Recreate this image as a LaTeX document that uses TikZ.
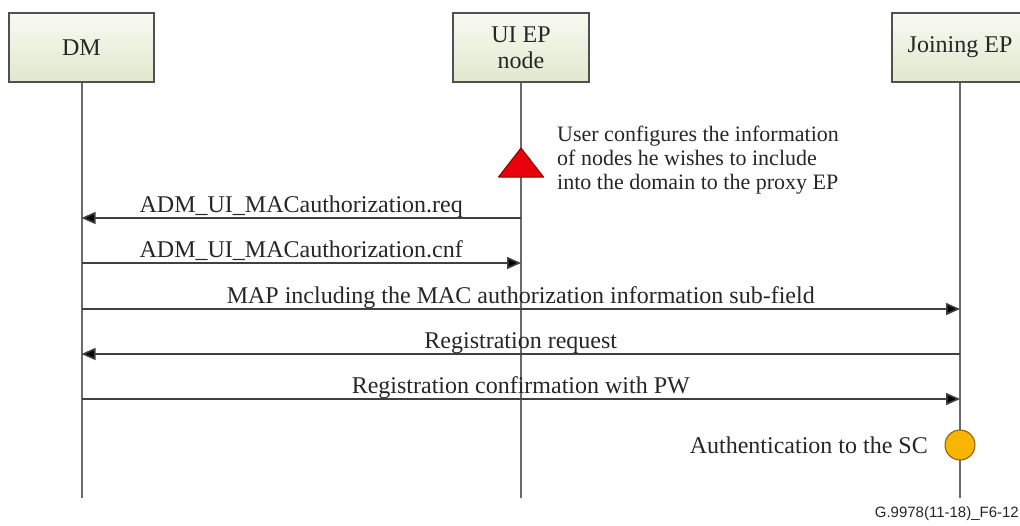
\documentclass[tikz,border=0pt]{standalone}
\usepackage{fontspec}
\setmainfont{Liberation Serif}
\newfontfamily\footfont{Liberation Sans}
\usetikzlibrary{arrows.meta,calc}

\definecolor{boxtop}{HTML}{F8FAF3}
\definecolor{boxbot}{HTML}{E0E8CC}
\definecolor{boxline}{HTML}{505050}
\definecolor{lifeline}{HTML}{6A6A6A}
\definecolor{msgline}{HTML}{404040}
\definecolor{txt}{HTML}{262626}
\definecolor{trired}{HTML}{E8000A}
\definecolor{triedge}{HTML}{8A0000}
\definecolor{dotfill}{HTML}{F7B500}
\definecolor{dotedge}{HTML}{8C5A00}

\tikzset{
  entity/.style={draw=boxline, line width=1.5pt, top color=boxtop, bottom color=boxbot,
    minimum height=69pt, inner sep=0pt, align=center, text=txt,
    font=\fontsize{24}{26}\selectfont},
  life/.style={draw=lifeline, line width=2pt},
  msg/.style={draw=msgline, line width=1.6pt, -{Triangle[length=14pt,width=12pt,fill=black]}},
  msglabel/.style={anchor=base, yshift=6pt, inner sep=0pt, text=txt,
    font=\fontsize{24}{26}\selectfont},
  note/.style={inner sep=0pt, text=txt, align=left, font=\fontsize{22}{24}\selectfont},
}

\begin{document}
\begin{tikzpicture}[x=1pt, y=-1pt]
  \path[use as bounding box] (0,0) rectangle (1020,525);
  \clip (0,0) rectangle (1020,525);

  % participants
  \node[entity, minimum width=145pt] (dm) at (81.5,47.5) {DM};
  \node[entity, minimum width=136pt] (ui) at (521,47.5) {UI EP\\node};
  \node[entity, minimum width=136pt] (je) at (960,47.5) {Joining EP};

  % lifeline ends and message rows
  \coordinate (bottom) at (0,498);
  \coordinate (r1) at (0,218);
  \coordinate (r2) at (0,263);
  \coordinate (r3) at (0,309);
  \coordinate (r4) at (0,354);
  \coordinate (r5) at (0,399);
  \coordinate (rc) at (0,445);

  \draw[life] (dm.south) -- (dm.south |- bottom);
  \draw[life] (ui.south) -- (ui.south |- bottom);
  \draw[life] (je.south) -- (je.south |- bottom);

  % user action marker on the UI EP lifeline
  \coordinate (apex) at (ui.south |- {(0,148)});
  \filldraw[draw=triedge, fill=trired, line width=1pt, line join=round]
    (apex) -- ++(22.5,29) -- ++(-45,0) -- cycle;
  % base anchor of a multi-line node sits on its last line
  \node[note, anchor=base west] (usernote) at (557,189)
    {User configures the information\\of nodes he wishes to include\\into the domain to the proxy EP};

  % messages
  \draw[msg] (ui.south |- r1) -- (dm.south |- r1)
    node[msglabel, pos=0.5] (m1) {ADM\_UI\_MACauthorization.req};
  \draw[msg] (dm.south |- r2) -- (ui.south |- r2)
    node[msglabel, pos=0.5] (m2) {ADM\_UI\_MACauthorization.cnf};
  \draw[msg] (dm.south |- r3) -- (je.south |- r3)
    node[msglabel, pos=0.5] (m3) {MAP including the MAC authorization information sub-field};
  \draw[msg] (je.south |- r4) -- (dm.south |- r4)
    node[msglabel, pos=0.5] (m4) {Registration request};
  \draw[msg] (dm.south |- r5) -- (je.south |- r5)
    node[msglabel, pos=0.5] (m5) {Registration confirmation with PW};

  % authentication marker on the Joining EP lifeline
  \node[circle, draw=dotedge, fill=dotfill, line width=1pt, minimum size=30pt, inner sep=0pt]
    (auth) at (je.south |- rc) {};
  \node[note, anchor=base east, font=\fontsize{24}{26}\selectfont] (authlabel) at (928,453)
    {Authentication to the SC};

  % figure tag
  \node[anchor=base east, inner sep=0pt, text=txt, font=\footfont\fontsize{15}{17}\selectfont]
    (tag) at (1019,517) {G.9978(11-18)\_F6-12};
\end{tikzpicture}
\end{document}
